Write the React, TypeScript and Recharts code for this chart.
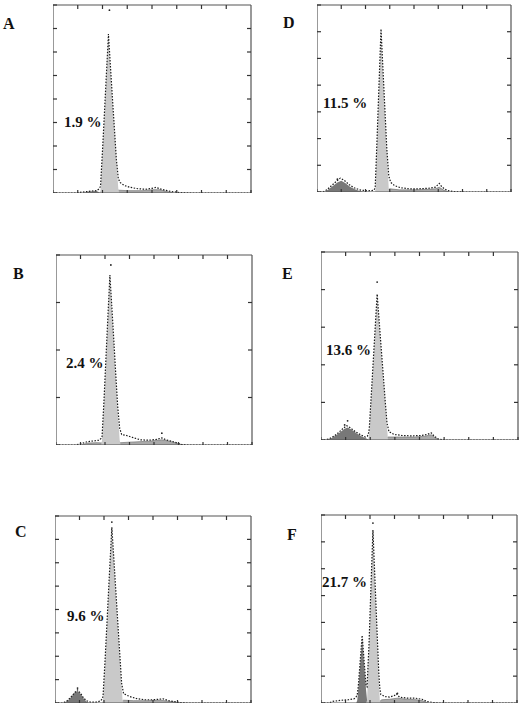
import React from "react";
import { ComposedChart, Area, Line, Scatter, XAxis, YAxis, ReferenceLine } from "recharts";

type Pt = [number, number];

// ---------- Panel A ----------
const aG1: Pt[] = [[47,0],[48,5],[50,85],[52,165],[54,247],[56,329],[58,263],[60,197],[62,132],[64,66],[66,8],[67,0]];
const aSub: Pt[] = [[30,0],[36,3],[44,4],[48,0]];
const aSG2: Pt[] = [[62,0],[66,6],[75,5],[90,5],[100,7],[108,7],[115,3],[122,0]];
const aRaw: Pt[] = [[0,0],[22,0],[30,2],[38,4],[44,5],[46,8],[48,14],[50,90],[52,172],[54,255],[56,338],[58,270],[60,203],[62,138],[64,72],[66,30],[68,22],[72,16],[78,12],[86,9],[94,8],[100,10],[104,12],[108,9],[113,6],[120,3],[128,1],[140,0],[200,0]];
const aStray: Pt[] = [[57,389]];

// ---------- Panel B ----------
const bG1: Pt[] = [[46,0],[47,10],[49,88],[51,176],[53,265],[55,353],[57,282],[59,212],[61,141],[63,71],[65,10],[66,0]];
const bSub: Pt[] = [];
const bSG2: Pt[] = [[26,0],[32,4],[42,5],[48,4],[60,4],[75,6],[95,8],[108,11],[118,7],[126,2],[130,0]];
const bRaw: Pt[] = [[0,0],[20,0],[26,3],[32,7],[40,9],[44,10],[46,14],[47,18],[49,95],[51,184],[53,272],[55,358],[57,290],[59,220],[61,148],[63,80],[65,35],[67,22],[72,20],[78,16],[86,11],[95,10],[103,12],[108,15],[112,11],[118,8],[124,4],[128,1],[135,0],[200,0]];
const bStray: Pt[] = [[56,379],[108,25]];

// ---------- Panel C ----------
const cG1: Pt[] = [[48,0],[49,5],[51,82],[53,164],[55,247],[58,370],[60,303],[62,235],[64,168],[66,101],[68,34],[69,5],[70,0]];
const cSub: Pt[] = [[9,0],[13,5],[17,14],[20,22],[23,26],[26,20],[29,10],[32,3],[35,0]];
const cSG2: Pt[] = [[66,0],[70,6],[80,5],[95,5],[108,6],[115,4],[122,2],[128,0]];
const cRaw: Pt[] = [[0,0],[8,0],[12,4],[16,12],[20,22],[23,28],[26,21],[29,11],[32,5],[36,2],[42,2],[46,4],[48,8],[49,14],[51,88],[53,170],[55,254],[58,376],[60,310],[62,242],[64,175],[66,108],[68,42],[70,20],[76,14],[84,9],[92,7],[100,7],[106,8],[110,9],[116,5],[122,3],[128,1],[135,0],[200,0]];
const cStray: Pt[] = [[58,387],[23,32]];

// ---------- Panel D ----------
const dG1: Pt[] = [[60,0],[61,49],[62,99],[63,148],[64,198],[65,247],[66,297],[67,260],[68,223],[70,149],[72,74],[74,5],[75,0]];
const dSub: Pt[] = [[8,0],[12,5],[17,12],[21,18],[25,21],[29,17],[34,10],[39,5],[44,2],[50,0]];
const dSG2: Pt[] = [[70,0],[75,6],[85,4],[100,4],[115,5],[122,6],[126,9],[130,4],[136,0]];
const dRaw: Pt[] = [[0,0],[6,0],[10,4],[15,12],[20,20],[24,26],[28,22],[33,14],[38,8],[44,4],[52,2],[58,3],[59,4],[60,10],[61,55],[62,104],[64,205],[66,305],[68,230],[70,155],[72,80],[74,30],[76,18],[80,12],[86,8],[95,6],[105,6],[115,7],[122,9],[126,16],[129,9],[134,3],[140,1],[150,0],[200,0]];
const dStray: Pt[] = [[21,24]];

// ---------- Panel E ----------
const eG1: Pt[] = [[48,0],[49,22],[51,112],[53,201],[55,291],[57,380],[59,311],[61,242],[63,173],[65,104],[67,35],[68,0]];
const eSub: Pt[] = [[4,0],[10,4],[15,12],[20,22],[24,30],[27,33],[31,28],[36,18],[41,10],[46,4],[50,0]];
const eSG2: Pt[] = [[64,0],[68,8],[80,8],[95,8],[105,10],[112,14],[116,6],[120,0]];
const eRaw: Pt[] = [[0,0],[4,0],[8,3],[13,10],[18,20],[22,30],[26,38],[30,32],[35,22],[40,14],[45,8],[47,10],[48,15],[49,30],[51,118],[53,208],[55,298],[57,388],[59,318],[61,248],[63,180],[65,110],[67,45],[69,22],[74,15],[82,12],[92,11],[102,12],[108,15],[112,19],[115,10],[119,3],[125,0],[200,0]];
const eStray: Pt[] = [[57,420],[27,51],[24,40]];

// ---------- Panel F ----------
const fG1: Pt[] = [[46,0],[47,5],[49,105],[51,211],[53,316],[55,226],[57,136],[59,45],[60,5],[61,0]];
const fSub: Pt[] = [[36,0],[37,5],[38,24],[40,72],[42,120],[44,72],[46,24],[47,5],[48,0]];
const fSG2: Pt[] = [[58,0],[62,6],[70,7],[78,9],[88,7],[98,6],[104,4],[108,1],[110,0]];
const fRaw: Pt[] = [[0,0],[8,0],[12,3],[20,5],[28,6],[34,8],[36,12],[37,16],[38,30],[40,78],[42,126],[44,78],[46,32],[47,30],[49,110],[51,218],[53,322],[55,232],[57,142],[59,55],[60,28],[61,16],[65,12],[70,11],[75,14],[77,17],[80,11],[88,9],[96,9],[103,7],[108,3],[114,1],[120,0],[200,0]];
const fStray: Pt[] = [[53,335],[78,18]];

// ---------- Labels & axes ----------
const panelLetters = ["A", "B", "C", "D", "E", "F"];
const percentLabels = ["1.9 %", "2.4 %", "9.6 %", "11.5 %", "13.6 %", "21.7 %"];
const xTicks = [0, 25, 50, 75, 100, 125, 150, 175, 200];
const yTicksA = [0, 50, 100, 150, 200, 250, 300, 350, 400];
const yTicksB = [0, 100, 200, 300, 400];
const yTicksC = [0, 50, 100, 150, 200, 250, 300, 350, 400];
const yTicksD = [0, 50, 100, 150, 200, 250, 300, 350];
const yTicksE = [0, 100, 200, 300, 400, 500];
const yTicksF = [0, 50, 100, 150, 200, 250, 300, 350];

// ---------- Layout (positions only) ----------
const layout = [
  { box: [54, 5, 197, 187], letter: [3, 16], pct: [64, 115] },
  { box: [57, 255, 195, 189], letter: [13, 266], pct: [66, 356] },
  { box: [56, 516, 195, 186], letter: [15, 524], pct: [67, 609] },
  { box: [318, 5, 193, 186], letter: [283, 15], pct: [323, 96] },
  { box: [322, 252, 196, 187], letter: [282, 266], pct: [326, 343] },
  { box: [322, 515, 195, 187], letter: [287, 527], pct: [322, 575] },
];

const series = [
  { g1: aG1, sub: aSub, sg2: aSG2, raw: aRaw, stray: aStray, yTicks: yTicksA },
  { g1: bG1, sub: bSub, sg2: bSG2, raw: bRaw, stray: bStray, yTicks: yTicksB },
  { g1: cG1, sub: cSub, sg2: cSG2, raw: cRaw, stray: cStray, yTicks: yTicksC },
  { g1: dG1, sub: dSub, sg2: dSG2, raw: dRaw, stray: dStray, yTicks: yTicksD },
  { g1: eG1, sub: eSub, sg2: eSG2, raw: eRaw, stray: eStray, yTicks: yTicksE },
  { g1: fG1, sub: fSub, sg2: fSG2, raw: fRaw, stray: fStray, yTicks: yTicksF },
];

const toObj = (a: Pt[]) => a.map(([x, y]) => ({ x, y }));

const AXIS = "#555";
const TICK = "#333";
const serif = '"Liberation Serif", "DejaVu Serif", serif';
const NoLabel = () => <g />;
const TICK_PX = 4;

const axisCommon = {
  tick: NoLabel,
  tickSize: TICK_PX,
  mirror: true,
  interval: 0 as const,
  stroke: AXIS,
  axisLine: { stroke: AXIS, strokeWidth: 1.2 },
  tickLine: { stroke: TICK, strokeWidth: 1.2 },
};

function Panel({ idx }: { idx: number }) {
  const s = series[idx];
  const L = layout[idx];
  const [left, top, w, h] = L.box;
  const yMax = s.yTicks[s.yTicks.length - 1];
  const rawData = toObj(s.raw);
  // tick length converted into data units so the top/right ticks go through the scales
  const dyTick = (TICK_PX / h) * yMax;
  const dxTick = (TICK_PX / w) * 200;
  const innerX = xTicks.slice(1, -1);
  const innerY = s.yTicks.slice(1, -1);
  return (
    <>
      <div
        style={{
          position: "absolute",
          left: L.letter[0],
          top: L.letter[1],
          fontFamily: serif,
          fontWeight: "bold",
          fontSize: 16,
          lineHeight: 1,
          color: "#111",
        }}
      >
        {panelLetters[idx]}
      </div>
      <div
        style={{
          position: "absolute",
          left: left - 1,
          top: top - 1,
        }}
      >
        <ComposedChart
          width={w + 2}
          height={h + 2}
          margin={{ top: 1, right: 1, bottom: 0, left: 0 }}
        >
          <XAxis
            type="number"
            dataKey="x"
            domain={[0, 200]}
            ticks={xTicks}
            orientation="bottom"
            height={1}
            allowDataOverflow
            {...axisCommon}
            tickSize={3}
          />
          <YAxis
            type="number"
            dataKey="y"
            domain={[0, yMax]}
            ticks={s.yTicks}
            orientation="left"
            width={1}
            allowDataOverflow
            {...axisCommon}
          />
          <Area
            data={toObj(s.sg2)}
            dataKey="y"
            type="linear"
            fill="#a9a9a9"
            fillOpacity={1}
            stroke="#666"
            strokeWidth={0.6}
            isAnimationActive={false}
          />
          {s.sub.length > 0 && (
            <Area
              data={toObj(s.sub)}
              dataKey="y"
              type="linear"
              fill="#787878"
              fillOpacity={1}
              stroke="none"
              isAnimationActive={false}
            />
          )}
          <Area
            data={toObj(s.g1)}
            dataKey="y"
            type="linear"
            fill="#c9c9c9"
            fillOpacity={1}
            stroke="none"
            isAnimationActive={false}
          />
          <Line
            data={rawData}
            dataKey="y"
            type="linear"
            stroke="#1a1a1a"
            strokeWidth={1.2}
            strokeDasharray="1.5 1.5"
            dot={false}
            isAnimationActive={false}
          />
          <Scatter
            data={toObj(s.stray)}
            dataKey="y"
            fill="#222"
            shape={(p: any) => <circle cx={p.cx} cy={p.cy} r={0.9} fill="#222" />}
            isAnimationActive={false}
          />
          {/* top and right frame edges */}
          <ReferenceLine y={yMax} stroke={AXIS} strokeWidth={1.2} ifOverflow="visible" />
          <ReferenceLine x={200} stroke={AXIS} strokeWidth={1.2} ifOverflow="visible" />
          {/* inward ticks on the top edge */}
          {innerX.map((t) => (
            <ReferenceLine
              key={`tx${t}`}
              segment={[
                { x: t, y: yMax },
                { x: t, y: yMax - dyTick },
              ]}
              stroke={TICK}
              strokeWidth={1.2}
              ifOverflow="visible"
            />
          ))}
          {/* inward ticks on the right edge */}
          {innerY.map((t) => (
            <ReferenceLine
              key={`ty${t}`}
              segment={[
                { x: 200 - dxTick, y: t },
                { x: 200, y: t },
              ]}
              stroke={TICK}
              strokeWidth={1.2}
              ifOverflow="visible"
            />
          ))}
        </ComposedChart>
      </div>
      <div
        style={{
          position: "absolute",
          left: L.pct[0],
          top: L.pct[1],
          fontFamily: serif,
          fontWeight: "bold",
          fontSize: 15,
          lineHeight: 1,
          color: "#111",
          whiteSpace: "nowrap",
        }}
      >
        {percentLabels[idx]}
      </div>
    </>
  );
}

export default function App() {
  return (
    <div
      style={{
        position: "absolute",
        left: 0,
        top: 0,
        width: 520,
        height: 706,
        background: "#fff",
        overflow: "hidden",
      }}
    >
      {[0, 1, 2, 3, 4, 5].map((i) => (
        <Panel key={i} idx={i} />
      ))}
    </div>
  );
}
